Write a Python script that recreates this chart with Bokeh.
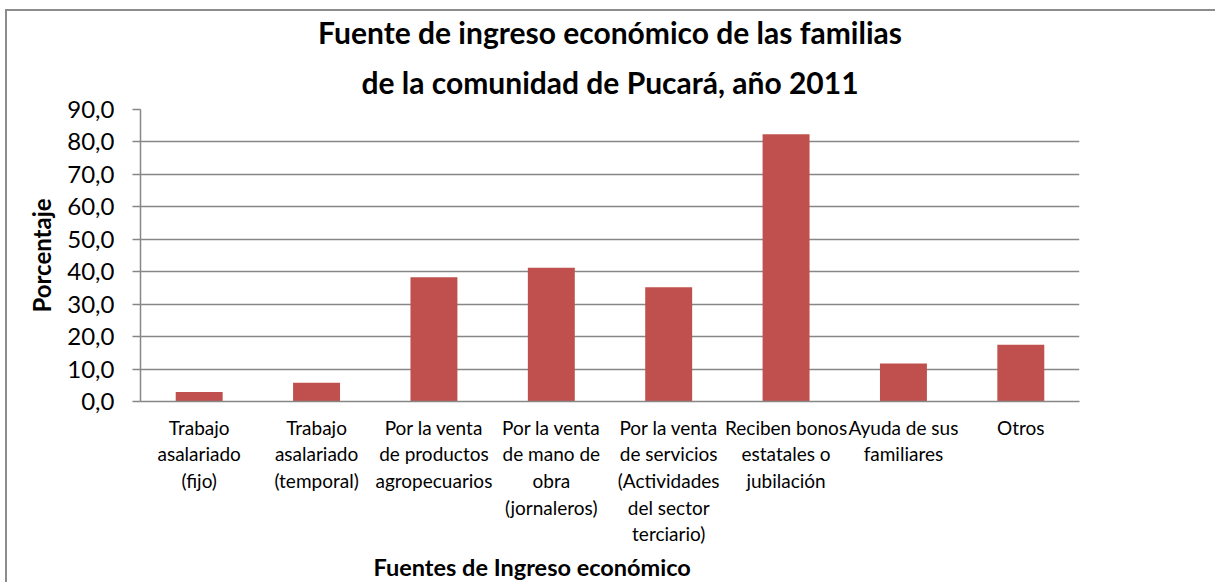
from bokeh.plotting import figure
from bokeh.models import Range1d, FactorRange, FixedTicker, Title, ColumnDataSource
from bokeh.embed import file_html
from bokeh.resources import INLINE

categories = [
    "Trabajo\nasalariado\n(fijo)",
    "Trabajo\nasalariado\n(temporal)",
    "Por la venta\nde productos\nagropecuarios",
    "Por la venta\nde mano de\nobra\n(jornaleros)",
    "Por la venta\nde servicios\n(Actividades\ndel sector\nterciario)",
    "Reciben bonos\nestatales o\njubilación",
    "Ayuda de sus\nfamiliares",
    "Otros",
]
values = [2.9, 5.8, 38.3, 41.2, 35.2, 82.4, 11.7, 17.5]
y_ticks = [0, 10, 20, 30, 40, 50, 60, 70, 80, 90]
y_tick_labels = ["0,0", "10,0", "20,0", "30,0", "40,0", "50,0", "60,0", "70,0", "80,0", "90,0"]

title_line1 = "Fuente de ingreso económico de las familias"
title_line2 = "de la comunidad de Pucará, año 2011"
x_title = "Fuentes de Ingreso económico"
y_title = "Porcentaje"

FONT = "Lato"
GRID = "#878787"

source = ColumnDataSource(data=dict(cat=categories, val=values))

p = figure(
    width=1215, height=582,
    x_range=FactorRange(factors=categories),
    y_range=Range1d(0, 90),
    output_backend="svg", toolbar_location=None,
    min_border_left=140, min_border_right=136,
    min_border_top=109, min_border_bottom=180,
    title=None,
)
p.background_fill_color = None
p.border_fill_color = None
p.styles = {
    "background-color": "white",
    "box-shadow": "inset 5px 9px 0 0 white, inset 7px 11px 0 0 #8c8c8c",
}

p.vbar(x="cat", top="val", width=0.40, source=source,
       fill_color="#C0504D", line_color=None)

t2 = Title(text=title_line2, align="center", text_font=FONT, text_font_style="bold",
           text_font_size="30px", text_color="#000000", standoff=20)
t1 = Title(text=title_line1, align="center", text_font=FONT, text_font_style="bold",
           text_font_size="30px", text_color="#000000", standoff=4)
p.add_layout(t2, "above")
p.add_layout(t1, "above")

p.outline_line_color = None

p.xgrid.grid_line_color = None
p.ygrid.grid_line_color = GRID
p.ygrid.grid_line_width = 1.5

xa = p.xaxis[0]
xa.axis_line_color = GRID
xa.axis_line_width = 1.5
xa.major_tick_line_color = None
xa.minor_tick_line_color = None
xa.major_label_text_font = FONT
xa.major_label_text_font_size = "19px"
xa.major_label_text_line_height = 1.16
xa.major_label_text_color = "#000000"
xa.major_label_standoff = 8
xa.major_label_orientation = "horizontal"

ya = p.yaxis[0]
ya.ticker = FixedTicker(ticks=y_ticks)
ya.major_label_overrides = {t: l for t, l in zip(y_ticks, y_tick_labels)}
ya.axis_line_color = GRID
ya.axis_line_width = 1.5
ya.major_tick_line_color = GRID
ya.major_tick_line_width = 1.5
ya.major_tick_out = 8
ya.major_tick_in = 0
ya.minor_tick_line_color = None
ya.major_label_text_font = FONT
ya.major_label_text_font_size = "24px"
ya.major_label_text_color = "#000000"
ya.major_label_standoff = 18
ya.axis_label = y_title
ya.axis_label_text_font = FONT
ya.axis_label_text_font_style = "bold"
ya.axis_label_text_font_size = "24px"
ya.axis_label_text_color = "#000000"
ya.axis_label_standoff = 8

xt = Title(text=x_title, align="left", offset=233, text_font=FONT,
           text_font_style="bold", text_font_size="23.5px", text_color="#000000",
           standoff=4)
p.add_layout(xt, "below")

open("out.html", "w").write(file_html(p, INLINE))
